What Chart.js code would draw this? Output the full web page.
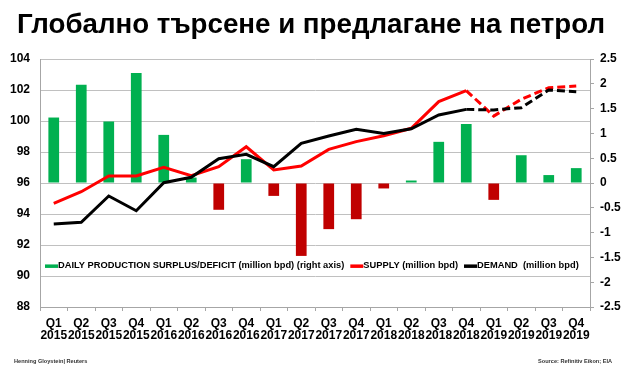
<!DOCTYPE html>
<html><head><meta charset="utf-8">
<script src="https://cdn.jsdelivr.net/npm/chart.js@4/dist/chart.umd.min.js"></script>
<style>html,body{margin:0;padding:0;background:#fff;}#wrap{width:630px;height:373px;}</style>
</head><body><div id="wrap"><canvas id="c" width="630" height="373"></canvas></div>
<script>
const categories = [
  ["Q1","2015"],["Q2","2015"],["Q3","2015"],["Q4","2015"],
  ["Q1","2016"],["Q2","2016"],["Q3","2016"],["Q4","2016"],
  ["Q1","2017"],["Q2","2017"],["Q3","2017"],["Q4","2017"],
  ["Q1","2018"],["Q2","2018"],["Q3","2018"],["Q4","2018"],
  ["Q1","2019"],["Q2","2019"],["Q3","2019"],["Q4","2019"]
];
const surplus = [1.32, 1.98, 1.24, 2.22, 0.97, 0.11, -0.54, 0.48, -0.26, -1.47, -0.93, -0.73, -0.11, 0.05, 0.83, 1.19, -0.34, 0.56, 0.16, 0.30];
const supply  = [94.69, 95.44, 96.45, 96.45, 97.01, 96.47, 97.05, 98.34, 96.84, 97.10, 98.17, 98.67, 99.05, 99.53, 101.25, 101.96, 100.32, 101.40, 102.15, 102.26];
const demand  = [93.35, 93.46, 95.16, 94.21, 96.02, 96.37, 97.57, 97.85, 97.05, 98.56, 99.03, 99.46, 99.20, 99.50, 100.39, 100.75, 100.71, 100.86, 102.00, 101.89];
const forecastFrom = 15;
const leftAxis = {min: 88, max: 104, step: 2};
const rightAxis = {min: -2.5, max: 2.5, step: 0.5};
const titleText = "Глобално търсене и предлагане на петрол";
const seriesLabels = ["DAILY PRODUCTION SURPLUS/DEFICIT (million bpd) (right axis)", "SUPPLY (million bpd)", "DEMAND  (million bpd)"];
const creditLeft = "Henning Gloystein| Reuters";
const creditRight = "Source: Refinitiv Eikon; EIA";

const GREEN = '#00b050', DARKRED = '#c00000', RED = '#ff0000', BLACK = '#000000';
const FONT = "'Liberation Sans', Arial, sans-serif";
const dashSeg = ctx => ctx.p0DataIndex >= forecastFrom ? [8, 4] : undefined;

const extras = {
  id: 'extras',
  afterDraw(chart) {
    const c = chart.ctx;
    const ys = chart.scales.y;
    c.save();
    // title
    c.font = "bold 27.7px " + FONT;
    c.fillStyle = '#000';
    c.textAlign = 'left';
    c.textBaseline = 'alphabetic';
    c.fillText(titleText, 17, 32.5);
    // legend
    const ly = ys.getPixelForValue(90.65);
    c.font = "bold 9.3px " + FONT;
    c.textBaseline = 'middle';
    const colors = [GREEN, RED, BLACK];
    let x = 45;
    seriesLabels.forEach((t, i) => {
      c.fillStyle = colors[i];
      c.fillRect(x, ly - 1.5, 13, 3.5);
      x += 13;
      c.fillStyle = '#000';
      c.fillText(t, x, ly);
      x += c.measureText(t).width + 6;
    });
    // credits
    c.font = "bold 5.6px " + FONT;
    c.fillStyle = '#333';
    c.textAlign = 'left';
    c.fillText(creditLeft, 14, 361);
    c.textAlign = 'right';
    c.fillText(creditRight, 612, 361);
    c.restore();
  }
};

new Chart(document.getElementById('c'), {
  type: 'bar',
  data: {
    labels: categories,
    datasets: [
      {
        type: 'line', label: seriesLabels[2], data: demand, yAxisID: 'y',
        borderColor: BLACK, borderWidth: 3, pointRadius: 0, tension: 0, order: 1,
        segment: {borderDash: dashSeg}
      },
      {
        type: 'line', label: seriesLabels[1], data: supply, yAxisID: 'y',
        borderColor: RED, borderWidth: 3, pointRadius: 0, tension: 0, order: 2,
        segment: {borderDash: dashSeg}
      },
      {
        type: 'bar', label: seriesLabels[0], data: surplus, yAxisID: 'y1',
        backgroundColor: surplus.map(v => v >= 0 ? GREEN : DARKRED),
        barPercentage: 0.39, categoryPercentage: 1, order: 3
      }
    ]
  },
  options: {
    responsive: false, animation: false, devicePixelRatio: 1,
    layout: {padding: {left: 5, top: 59, right: 0, bottom: 0}},
    plugins: {
      legend: {display: false},
      tooltip: {enabled: false},
      title: {display: false}
    },
    scales: {
      x: {
        type: 'category', offset: true,
        grid: {drawOnChartArea: false, drawTicks: true, tickLength: 4, color: '#a6a6a6', offset: true},
        border: {color: '#a6a6a6', width: 1},
        ticks: {color: '#000', font: {family: FONT, weight: 'bold', size: 12, lineHeight: 1.05}, maxRotation: 0, autoSkip: false, padding: 6},
        afterFit: s => { s.height = 66; }
      },
      y: {
        position: 'left', min: leftAxis.min, max: leftAxis.max,
        ticks: {stepSize: leftAxis.step, color: '#000', font: {family: FONT, weight: 'bold', size: 12}, padding: 10},
        grid: {color: '#c0c0c0', drawTicks: false},
        border: {color: '#a6a6a6'},
        afterFit: s => { s.width = 35; }
      },
      y1: {
        position: 'right', min: rightAxis.min, max: rightAxis.max,
        ticks: {stepSize: rightAxis.step, color: '#000', font: {family: FONT, weight: 'bold', size: 12}, padding: 6,
                callback: v => String(Number(Number(v).toFixed(1)))},
        grid: {drawOnChartArea: false, drawTicks: true, tickLength: 4, color: '#a6a6a6'},
        border: {color: '#a6a6a6'},
        afterFit: s => { s.width = 40; }
      }
    }
  },
  plugins: [extras]
});
</script></body></html>
